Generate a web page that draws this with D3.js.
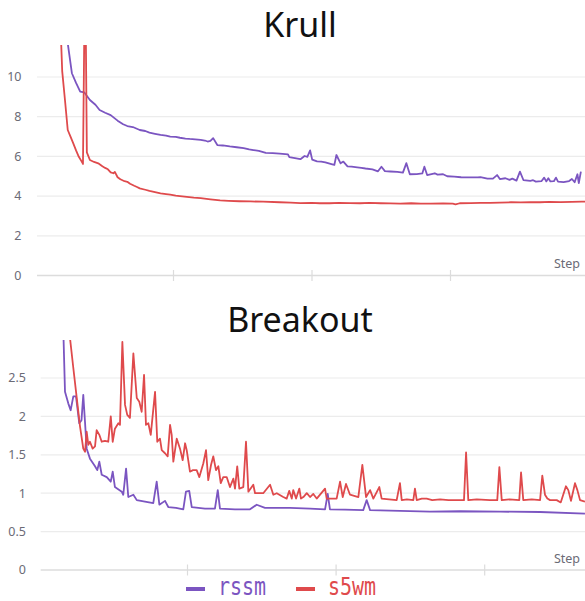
<!DOCTYPE html>
<html><head><meta charset="utf-8">
<script src="https://cdn.jsdelivr.net/npm/d3@7"></script>
<style>
html,body{margin:0;padding:0;background:#fff;overflow:hidden}
svg{display:block}
</style></head>
<body>
<svg id="chart" width="585" height="601"></svg>
<script>
// ---------- DATA ----------
const seriesNames = ["rssm", "s5wm"];
const seriesColors = ["#7b55c1", "#df4a4c"];

const krullYTicks = [0, 2, 4, 6, 8, 10];
const krullXTicks = [100, 200, 300];
const breakoutYTicks = [0, 0.5, 1, 1.5, 2, 2.5];
const breakoutXTicks = [100, 200, 300];

// [step, value]
const krullRssm = [
 [23,12.2],[27,10.19],[30,9.7],[33,9.26],[36,9.22],[40,8.84],[44,8.6],[47,8.34],[51,8.2],[55,8.08],[60,7.8],
 [64,7.62],[67,7.53],[71,7.48],[76,7.33],[80,7.28],[83,7.2],[87,7.14],[91,7.08],[95,7.05],[98,7.0],[102,6.98],
 [105,6.94],[109,6.9],[112,6.88],[116,6.86],[120,6.83],[123,6.8],[125,6.75],[127,6.78],[129,6.92],[132,6.57],
 [136,6.55],[141,6.5],[146,6.46],[151,6.42],[155,6.35],[158,6.32],[162,6.28],[167,6.18],[172,6.16],[177,6.14],
 [183,6.1],[184,5.96],[192,5.86],[195,6.02],[197,5.98],[199,6.3],[200.5,5.84],[204,5.75],[207,5.74],[210,5.7],
 [215,5.6],[216.5,5.57],[218,6.07],[221,5.65],[223,5.74],[226,5.5],[229,5.48],[233,5.45],[236,5.42],[239,5.39],
 [244,5.35],[248,5.25],[250.5,5.48],[253,5.26],[257,5.24],[262,5.22],[266,5.18],[268.5,5.66],[271,5.1],
 [276,5.11],[280,5.14],[281.5,5.48],[283.5,5.06],[289,5.15],[291,5.08],[295,5.1],[298,5.0],[303,4.98],
 [308,4.95],[315,4.94],[320,4.94],[322,4.96],[327,4.88],[331,4.88],[334,5.06],[336,4.86],[340,4.9],[343,4.82],
 [345,4.88],[348,4.78],[350.5,5.23],[353,4.81],[358,4.77],[360,4.8],[362,4.73],[366,4.75],[368,4.93],[369.5,4.74],
 [371,4.9],[372.5,4.74],[375,4.75],[376.5,4.93],[378,4.73],[382,4.7],[386,4.76],[388,4.86],[390,4.7],[392,5.1],
 [393,4.66],[394.5,5.23]
];
const krullS5wm = [
 [19,12.2],[20,10.3],[22,8.84],[24,7.33],[26,7.0],[28,6.66],[30,6.3],[32,5.98],[34,5.75],[35,5.62],
 [36,12.6],[37,12.6],[37.8,6.2],[40,5.82],[43,5.72],[46,5.65],[49,5.5],[51,5.42],[53,5.35],[55,5.2],
 [57,5.15],[58,5.22],[60,4.95],[62,4.85],[65,4.75],[67,4.72],[69,4.62],[72,4.52],[74,4.46],[76,4.39],
 [80,4.32],[83,4.26],[87,4.2],[91,4.14],[95,4.1],[98,4.07],[102,4.02],[105,4.0],[110,3.96],[115,3.92],
 [120,3.9],[127,3.84],[134,3.78],[140,3.76],[148,3.74],[156,3.73],[165,3.72],[177,3.69],[185,3.67],
 [192,3.65],[200,3.66],[206,3.64],[213,3.64],[220,3.66],[228,3.65],[235,3.64],[242,3.66],[250,3.64],
 [257,3.63],[264,3.62],[272,3.64],[279,3.62],[286,3.62],[295,3.63],[302,3.62],[304,3.58],[307,3.64],
 [315,3.65],[322,3.66],[329,3.66],[336,3.67],[344,3.69],[351,3.68],[358,3.7],[365,3.69],[372,3.71],
 [380,3.7],[388,3.71],[395,3.72],[398,3.72]
];
const breakoutRssm = [
 [16.8,3.1],[17.9,2.32],[20.1,2.17],[21.7,2.08],[23.5,2.26],[25.3,2.26],[27.5,1.91],[29,1.95],[30.2,2.28],
 [32.5,1.58],[34.7,1.45],[38.1,1.35],[39.6,1.3],[41,1.41],[42.6,1.24],[46,1.21],[48.7,1.15],[50,1.28],
 [51.5,1.08],[56.1,1.02],[57.1,0.98],[59,1.32],[60.5,0.95],[63.9,0.98],[66.2,0.91],[71.7,0.89],[77.3,0.87],
 [79.6,1.15],[81.4,0.85],[85.2,0.9],[87.4,0.82],[92.6,0.81],[97.5,0.79],[99.3,1.02],[101.5,1.03],[103.2,0.82],
 [112.1,0.8],[118.8,0.8],[120.7,1.04],[122.2,0.8],[132.3,0.79],[142.4,0.79],[146.9,0.85],[152.5,0.81],
 [169.3,0.81],[182.8,0.8],[192.9,0.79],[194.7,0.99],[196.2,0.79],[206.3,0.785],[218.6,0.78],[220.9,0.91],
 [223.2,0.78],[243.3,0.77],[263.5,0.76],[283.7,0.765],[310.6,0.76],[337.6,0.755],[367.8,0.735]
];
const breakoutS5wm = [
 [20.8,3.1],[23.5,2.63],[25.8,2.24],[28,1.87],[30.2,1.58],[31.4,1.54],[32.5,1.8],[33.6,1.63],[34.7,1.67],
 [36.5,1.58],[38.1,1.61],[39.2,1.82],[41,1.76],[42.6,1.67],[44.8,1.68],[47,1.67],[48.7,2.0],[50,1.67],
 [51.5,1.84],[53.8,1.91],[54.9,1.89],[56.5,2.97],[58.3,2.15],[59.8,2.02],[61.6,1.98],[63.9,2.82],[66.2,2.24],
 [67.9,2.19],[69.5,2.06],[71.1,2.54],[72.4,1.89],[74,1.91],[75.6,1.76],[78.5,2.32],[80,1.67],[81.8,1.71],
 [83,1.56],[85.2,1.52],[87,1.48],[88.6,1.89],[89.7,1.76],[90.8,1.41],[93.1,1.71],[95.3,1.58],[97.1,1.43],
 [98.7,1.65],[99.8,1.56],[102,1.28],[104,1.3],[106.5,1.3],[108.3,1.21],[111,1.39],[112.8,1.56],[114.3,1.17],
 [116.2,1.37],[117.7,1.48],[119.5,1.3],[121.1,1.35],[122.7,1.13],[124.4,1.21],[126.7,1.21],[128.9,1.08],
 [131.2,1.19],[132.3,1.06],[133.8,1.35],[135.2,1.06],[137.9,1.08],[139.7,1.67],[141.3,1.02],[144.6,1.11],
 [145.8,1.0],[151.3,1.0],[155.9,1.11],[158.1,0.98],[160.4,1.0],[164.8,0.95],[167.1,0.93],[168.8,1.03],
 [170.5,0.93],[171.5,1.04],[173.4,0.93],[175.6,1.06],[176.7,0.93],[178.3,0.95],[180.6,1.0],[182.8,0.95],
 [185,0.99],[187.3,0.93],[192.9,1.06],[194,0.93],[200.7,0.93],[203,1.15],[204.8,0.95],[207,1.12],
 [209.7,0.98],[215.3,0.95],[218,1.37],[220.5,0.95],[223.2,1.04],[225.4,0.93],[229.4,1.08],[231,0.93],
 [236,0.92],[241.1,0.91],[243.3,1.13],[244.5,0.91],[248,0.92],[252.3,0.91],[253.4,1.06],[254.6,0.91],
 [258,0.93],[261.3,0.93],[265,0.91],[270.3,0.92],[276,0.91],[281.5,0.91],[286.4,0.91],[287.8,1.53],
 [289.3,0.91],[295,0.92],[303.9,0.91],[308.8,0.91],[310.2,1.34],[311.8,0.91],[317,0.92],[323.6,0.91],
 [324.8,1.27],[326.3,0.91],[332,0.92],[337.6,0.91],[339.1,1.23],[340.9,0.98],[342.5,0.93],[344.3,0.91],
 [348.8,0.91],[351.5,0.88],[355,1.09],[356.6,1.04],[358.4,0.9],[361.1,1.13],[362.7,1.04],[364.5,0.91],
 [367.8,0.89]
];

// ---------- DRAW ----------
const svg = d3.select("#chart");
const W = 585;
const gridColor = "#ececec";
const axisColor = "#dcdcdc";
const labelColor = "#6b6b76";
const font = "'Noto Sans', 'Open Sans', sans-serif";

function panel(cfg) {
  const g = svg.append("g");
  const x = d3.scaleLinear().domain([0, 100]).range(cfg.xRange);
  const y = d3.scaleLinear().domain([0, cfg.yRef]).range(cfg.yRange);

  g.append("text").attr("x", 300).attr("y", cfg.titleY)
    .attr("text-anchor", "middle").attr("font-family", font)
    .attr("font-size", 34).attr("fill", "#111").text(cfg.title);

  // gridlines
  g.selectAll(".grid").data(cfg.yTicks.filter(d => d !== 0)).join("line")
    .attr("x1", cfg.gridX0).attr("x2", W)
    .attr("y1", d => y(d)).attr("y2", d => y(d))
    .attr("stroke", gridColor).attr("stroke-width", 1.2);
  // base axis line
  g.append("line").attr("x1", cfg.gridX0).attr("x2", W)
    .attr("y1", y(0)).attr("y2", y(0))
    .attr("stroke", axisColor).attr("stroke-width", 1.6);

  // y labels
  g.selectAll(".yl").data(cfg.yTicks).join("text")
    .attr("x", cfg.labelX).attr("y", d => y(d))
    .attr("dy", "0.35em").attr("text-anchor", "end")
    .attr("font-family", font).attr("font-size", 12.5)
    .attr("fill", labelColor).text(d => String(d));

  // x ticks via d3 axis
  const xa = d3.axisBottom(x).tickValues(cfg.xTicks).tickSize(11).tickFormat("");
  const ax = g.append("g").attr("transform", `translate(0,${y(0) - 5.5})`).call(xa);
  ax.select(".domain").remove();
  ax.selectAll(".tick line").attr("stroke", axisColor).attr("stroke-width", 1.2);

  g.append("text").attr("x", 580).attr("y", cfg.stepY)
    .attr("text-anchor", "end").attr("font-family", font)
    .attr("font-size", 12.5).attr("fill", labelColor).text("Step");

  const clipId = "clip" + cfg.title;
  svg.append("clipPath").attr("id", clipId).append("rect")
    .attr("x", cfg.gridX0 - 5).attr("y", cfg.clipTop)
    .attr("width", W).attr("height", y(0) - cfg.clipTop);

  const line = d3.line().x(d => x(d[0])).y(d => y(d[1]));
  const lg = g.append("g").attr("clip-path", `url(#${clipId})`);
  cfg.series.forEach((s, i) => {
    lg.append("path").datum(s).attr("d", line)
      .attr("fill", "none").attr("stroke", seriesColors[i])
      .attr("stroke-width", 1.8).attr("stroke-linejoin", "round");
  });
}

panel({
  title: "Krull", titleY: 36.5,
  xRange: [34.5, 173], yRef: 10, yRange: [275.5, 77],
  yTicks: krullYTicks, xTicks: krullXTicks,
  gridX0: 37, labelX: 21.5, clipTop: 45, stepY: 268,
  series: [krullRssm, krullS5wm]
});
panel({
  title: "Breakout", titleY: 332,
  xRange: [38.4, 187], yRef: 2.5, yRange: [570, 378],
  yTicks: breakoutYTicks, xTicks: breakoutXTicks,
  gridX0: 40.7, labelX: 26, clipTop: 340, stepY: 563,
  series: [breakoutRssm, breakoutS5wm]
});

// legend
const legend = svg.append("g");
const legendX = [186, 296];
seriesNames.forEach((name, i) => {
  legend.append("line").attr("x1", legendX[i]).attr("x2", legendX[i] + 19)
    .attr("y1", 589).attr("y2", 589)
    .attr("stroke", seriesColors[i]).attr("stroke-width", 4);
  legend.append("text")
    .attr("transform", `translate(${legendX[i] + 32},595) scale(1,1.25)`)
    .attr("font-family", "'DejaVu Sans Mono', monospace").attr("font-size", 20)
    .attr("fill", seriesColors[i]).text(name);
});
</script>
</body></html>
